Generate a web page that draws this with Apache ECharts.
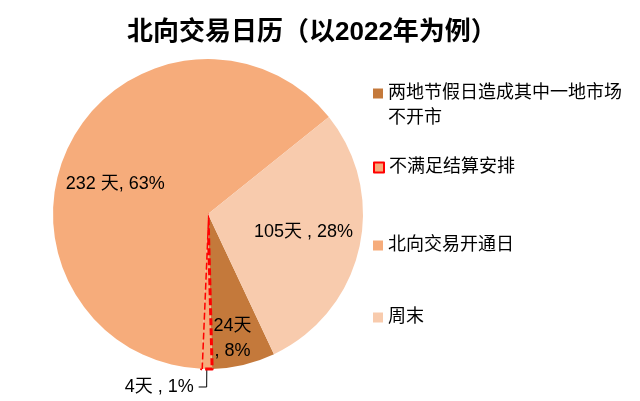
<!DOCTYPE html>
<html>
<head>
<meta charset="utf-8">
<script src="https://cdn.jsdelivr.net/npm/echarts@6/dist/echarts.min.js"></script>
<style>html,body{margin:0;padding:0;background:#fff;}#c{width:640px;height:401px;}</style>
</head>
<body>
<div id="c"></div>
<script>
// Data
var titleText = '北向交易日历（以2022年为例）';
var categories = ['两地节假日造成其中一地市场不开市', '不满足结算安排', '北向交易开通日', '周末'];
var legendLabels = ['\n两地节假日造成其中一地市场\n不开市', '不满足结算安排', '北向交易开通日', '周末'];
var days = [24, 4, 232, 105];
var labelTexts = ['24天\n, 8%', '4天 , 1%', '232 天, 63%', '105天 , 28%'];
var colors = ['#C4793B', '#F6AC7B', '#F6AC7B', '#F8CBAD'];

var FONT = '"Liberation Sans", Arial, "Noto Sans CJK SC", sans-serif';
var labelOffsets = [[6, 46], [0, 0], [-21, 6], [17, 0]];
var legendTops = [56, 155, 233, 305];

var data = categories.map(function (name, i) {
  var item = {
    name: name,
    value: days[i],
    itemStyle: { color: colors[i] },
    label: { formatter: labelTexts[i], offset: labelOffsets[i] }
  };
  if (i === 1) {
    item.itemStyle = { color: colors[i], borderColor: '#FF0000', borderWidth: 3, borderType: [7, 3] };
    item.label = { formatter: labelTexts[i], position: 'outside', distanceToLabelLine: 5 };
    item.labelLine = { show: true, length: 18, length2: 8, smooth: false, lineStyle: { color: '#000', width: 1 } };
  }
  return item;
});

var legends = categories.map(function (name, i) {
  return {
    data: [name],
    orient: 'vertical',
    left: 373,
    top: legendTops[i],
    padding: 0,
    itemWidth: 10,
    itemHeight: 10,
    icon: 'rect',
    selectedMode: false,
    formatter: function () { return legendLabels[i]; },
    textStyle: {
      fontSize: 18,
      lineHeight: 25,
      color: '#000',
      fontFamily: FONT
    }
  };
});

var chart = echarts.init(document.getElementById('c'), null, { renderer: 'canvas' });
chart.setOption({
  animation: false,
  backgroundColor: '#fff',
  title: {
    text: titleText,
    left: 127,
    top: 20,
    padding: 0,
    textStyle: { fontSize: 26, fontWeight: 'bold', color: '#000', fontFamily: FONT }
  },
  legend: legends,
  series: [{
    type: 'pie',
    center: [208, 214],
    radius: [0, 155],
    startAngle: -64.8,
    clockwise: true,
    avoidLabelOverlap: false,
    silent: true,
    label: {
      show: true,
      position: 'inside',
      color: '#000',
      fontSize: 18,
      lineHeight: 25,
      fontFamily: FONT
    },
    labelLine: { show: false },
    data: data
  }]
});
</script>
</body>
</html>
